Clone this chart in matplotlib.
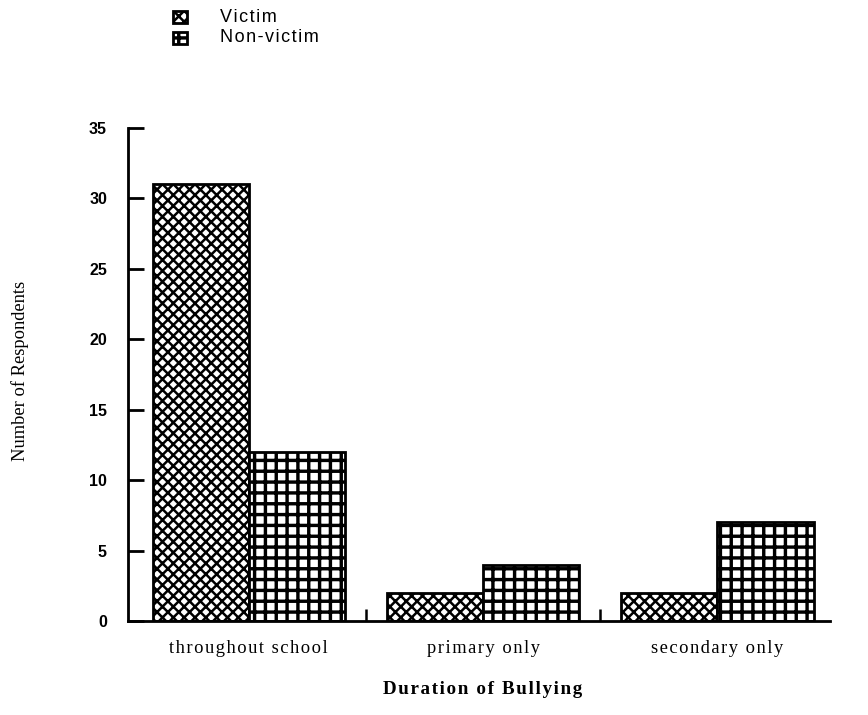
import matplotlib
matplotlib.use("Agg")
import matplotlib.pyplot as plt
import numpy as np
from matplotlib.patches import Rectangle

# ===================================== data =====================================

categories = ["throughout school", "primary only", "secondary only"]
series_names = ["Victim", "Non-victim"]
victim = [31, 2, 2]
non_victim = [12, 4, 7]
y_ticks = [0, 5, 10, 15, 20, 25, 30, 35]

x_title = "Duration of Bullying"
y_title = "Number of Respondents"

# ================================================================================

W, H, DPI = 868, 715, 130   # dpi picked so the hatch spacing matches the scan


def pt(px):
    # pixels -> points at our dpi
    return px * 72.0 / DPI


def spaced(s, gap="\u200a"):
    # fake the wide letter spacing of the old print
    return gap.join(s)


serif = ["Liberation Serif", "DejaVu Serif"]
sans = ["Liberation Sans", "DejaVu Sans"]

hatches = ["xxxx", "++"]
hatch_lw = [pt(2.5), pt(3.4)]

plt.rcParams["hatch.color"] = "black"

fig = plt.figure(figsize=(W / DPI, H / DPI), dpi=DPI)
ax = fig.add_axes([128 / W, 1 - 621 / H, (830 - 128) / W, (621 - 128) / H])

x = np.arange(len(categories))
w = 0.41

for vals, off, hatch, hlw in zip([victim, non_victim], [-w / 2, w / 2], hatches, hatch_lw):
    with plt.rc_context({"hatch.linewidth": hlw}):
        ax.bar(x + off, vals, width=w, facecolor="white", edgecolor="black",
               linewidth=pt(2.8), hatch=hatch)

ax.set_xlim(-0.515, 2.48)
ax.set_ylim(0, 35)

for side in ["top", "right"]:
    ax.spines[side].set_visible(False)
ax.spines["left"].set_linewidth(pt(2.8))
ax.spines["bottom"].set_linewidth(pt(2.8))

ax.set_yticks(y_ticks)
ax.set_yticklabels([str(t) for t in y_ticks], fontsize=pt(16), fontweight="bold",
                   family=sans)
ax.tick_params(axis="y", direction="in", length=pt(16), width=pt(2.8), pad=pt(21))

# separators between categories as major ticks, labels on minor ticks
ax.set_xticks([0.5, 1.5])
ax.set_xticklabels([])
ax.tick_params(axis="x", which="major", direction="in", length=pt(12), width=pt(2.5))
ax.set_xticks(x, minor=True)
ax.set_xticklabels([spaced(c) for c in categories], minor=True,
                   fontsize=pt(18.5), family=serif)
ax.tick_params(axis="x", which="minor", length=0, pad=pt(19))

fig.text(483 / W, 1 - 690 / H, spaced(x_title), ha="center", va="center",
         fontsize=pt(19), fontweight="bold", family=serif)
fig.text(20 / W, 1 - 371 / H, y_title, rotation=90, ha="center", va="center",
         fontsize=pt(18.5), family=serif)

# legend, drawn by hand like the original
for i, (name, hatch, hlw) in enumerate(zip(series_names, hatches, hatch_lw)):
    yc = 17 + 21 * i
    with plt.rc_context({"hatch.linewidth": hlw}):
        fig.add_artist(Rectangle((173 / W, 1 - (yc + 6) / H), 14 / W, 12 / H,
                                 transform=fig.transFigure, facecolor="white",
                                 edgecolor="black", linewidth=pt(2.8), hatch=hatch))
    fig.text(220 / W, 1 - yc / H, spaced(name), ha="left", va="center",
             fontsize=pt(18), family=sans)

fig.savefig("out.png", dpi=DPI, facecolor="white")
